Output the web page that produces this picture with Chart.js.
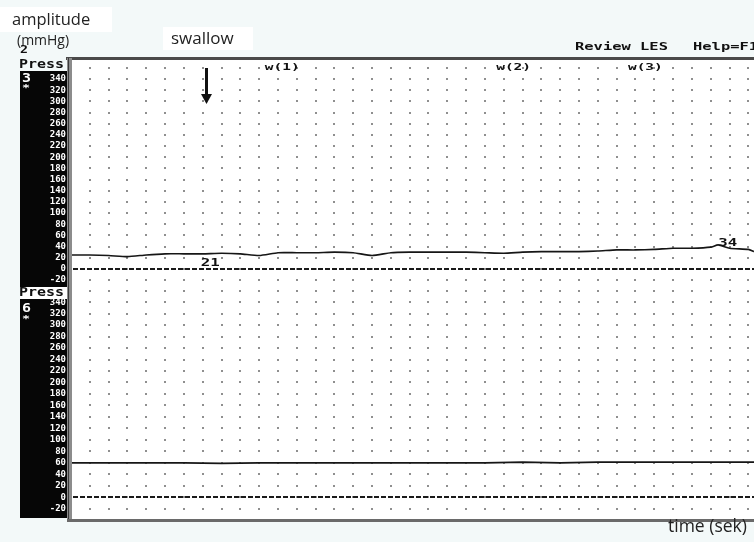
<!DOCTYPE html>
<html>
<head>
<meta charset="utf-8">
<script src="https://cdn.jsdelivr.net/npm/chart.js@4.4.1/dist/chart.umd.min.js"></script>
<style>
    html, body { margin: 0; padding: 0; background: #f3f9f9; }
    #wrap { position: relative; width: 754px; height: 542px; overflow: hidden; }
    canvas { position: absolute; left: 0; top: 0; }
</style>
</head>
<body>
<div id="wrap"><canvas id="chart" width="754" height="542"></canvas></div>
<script>
// time in grid divisions (one dot column = one division)
const upperTime = [0, 1, 2, 3, 4, 5, 6, 7, 8, 9, 10, 11, 12, 13, 14, 15, 16, 17, 18, 19, 20,
    21, 22, 23, 24, 25, 26, 27, 28, 29, 30, 31, 32, 33, 34, 34.4, 35, 36, 36.3];
const upperPressure = [25, 25, 24, 22, 25, 27, 27, 27, 28, 27, 24, 29, 29, 29, 30, 29, 24, 29, 30, 30, 30,
    30, 29, 28, 30, 31, 31, 31, 32, 34, 34, 35, 37, 37, 39, 43, 37, 35, 31];

const lowerTime = [0, 2, 4, 6, 8, 10, 12, 14, 16, 18, 20, 22, 24, 26, 28, 30, 32, 34, 36, 36.3];
const lowerPressure = [60, 60, 60, 60, 59, 60, 60, 60, 60, 60, 60, 60, 61, 60, 61, 61, 61, 61, 61, 61];

const pressureTicks = [340, 320, 300, 280, 260, 240, 220, 200, 180, 160, 140, 120, 100, 80, 60, 40, 20, 0, -20];
const upperDotRows = [360, ...pressureTicks, -40];
const lowerDotRows = pressureTicks;

const markers = [
    { t: 10.3, text: "w(1)" },
    { t: 22.6, text: "w(2)" },
    { t: 29.6, text: "w(3)" }
];
const swallowAt = 7.2;
const minLabel = { t: 6.9, value: 21 };
const maxLabel = { t: 34.4, value: 34 };

const TIME_MAX = 36.3;

function pixelText(ctx, text, x, y, charW, h, color, align) {
    const size = h * 1.3;
    ctx.save();
    ctx.font = "bold " + size + "px 'DejaVu Sans Mono'";
    const sx = charW / (0.602 * size);
    ctx.translate(x, y);
    ctx.scale(sx, 1);
    ctx.fillStyle = color;
    ctx.textBaseline = "middle";
    ctx.textAlign = align || "left";
    ctx.fillText(text, 0, 0);
    ctx.restore();
}

function label(ctx, text, x, y, size) {
    ctx.save();
    ctx.font = size + "px 'Open Sans'";
    ctx.fillStyle = "#222";
    ctx.textBaseline = "middle";
    ctx.fillText(text, x, y);
    ctx.restore();
}

const paperPlugin = {
    id: "paper",
    beforeDraw(chart) {
        const { ctx, chartArea } = chart;
        const x = chart.scales.x, yU = chart.scales.yUpper, yL = chart.scales.yLower;
        ctx.save();
        ctx.fillStyle = "#f3f9f9";
        ctx.fillRect(0, 0, chart.width, chart.height);
        // white boxes behind added labels
        ctx.fillStyle = "#ffffff";
        ctx.fillRect(0, 7, 112, 25);
        ctx.fillRect(163, 27, 90, 23);
        ctx.fillRect(chartArea.left, chartArea.top, chartArea.right - chartArea.left, chartArea.bottom - chartArea.top);
        // black label strip
        ctx.fillStyle = "#060606";
        ctx.fillRect(20, 71, chartArea.left - 23, 216);
        ctx.fillRect(20, 299, chartArea.left - 23, 219);
        ctx.fillStyle = "#ffffff";
        ctx.fillRect(20, 287, chartArea.left - 23, 12);

        // dot grid
        ctx.fillStyle = "#8f8f8f";
        const cols = [];
        for (let t = 0; t <= TIME_MAX; t++) cols.push(x.getPixelForValue(t));
        const rows = upperDotRows.map(v => yU.getPixelForValue(v))
            .concat(lowerDotRows.map(v => yL.getPixelForValue(v)));
        rows.forEach(py => cols.forEach(px => {
            ctx.fillRect(Math.round(px) - 1, Math.round(py) - 1, 2, 2);
        }));

        // zero lines
        ctx.strokeStyle = "#1a1a1a";
        ctx.lineWidth = 2;
        ctx.setLineDash([5, 2]);
        [yU, yL].forEach(s => {
            const py = Math.round(s.getPixelForValue(0));
            ctx.beginPath();
            ctx.moveTo(chartArea.left + 2, py);
            ctx.lineTo(chartArea.right, py);
            ctx.stroke();
        });
        ctx.restore();
    },
    afterDraw(chart) {
        const { ctx, chartArea } = chart;
        const x = chart.scales.x, yU = chart.scales.yUpper;
        ctx.save();
        // frame
        ctx.fillStyle = "#4a4a4a";
        ctx.fillRect(66, chartArea.top - 2, chartArea.right - 66, 3);
        ctx.fillStyle = "#8c8c8c";
        ctx.fillRect(67, chartArea.top - 1, 5, chartArea.bottom - chartArea.top + 3);
        ctx.fillStyle = "#3a3a3a";
        ctx.fillRect(68, chartArea.top - 1, 1, chartArea.bottom - chartArea.top + 3);
        ctx.fillStyle = "#6a6a6a";
        ctx.fillRect(67, chartArea.bottom, chartArea.right - 67, 3);

        // header texts
        pixelText(ctx, "Review LES", 575, 47, 9.3, 8, "#111");
        pixelText(ctx, "Help=F1", 693, 47, 9.3, 8, "#111");
        pixelText(ctx, "2", 20, 50, 8, 8, "#111");
        pixelText(ctx, "Press", 19, 65, 9, 9, "#111");
        pixelText(ctx, "Press", 19, 293, 9, 9, "#111");
        pixelText(ctx, "3", 22, 79, 9, 10, "#fff");
        pixelText(ctx, "*", 22, 89, 8, 7, "#fff");
        pixelText(ctx, "6", 22, 309, 9, 10, "#fff");
        pixelText(ctx, "*", 22, 320, 8, 7, "#fff");

        markers.forEach(m => pixelText(ctx, m.text, x.getPixelForValue(m.t), yU.getPixelForValue(360), 8.7, 7, "#111"));
        pixelText(ctx, String(minLabel.value), x.getPixelForValue(minLabel.t), 263, 9.5, 8, "#111");
        pixelText(ctx, String(maxLabel.value), x.getPixelForValue(maxLabel.t), 243, 9.5, 8, "#111");

        // swallow arrow
        const ax = Math.round(x.getPixelForValue(swallowAt));
        ctx.fillStyle = "#111";
        ctx.fillRect(ax - 1, 68, 3, 28);
        ctx.beginPath();
        ctx.moveTo(ax - 5, 94);
        ctx.lineTo(ax + 6, 94);
        ctx.lineTo(ax + 0.5, 104);
        ctx.closePath();
        ctx.fill();

        // axis captions
        label(ctx, "amplitude", 12, 20, 16.5);
        label(ctx, "(mmHg)", 17, 41, 14);
        label(ctx, "swallow", 171, 39, 17);
        label(ctx, "time (sek)", 668, 527, 17.5);
        ctx.restore();
    }
};

const tickFont = { family: "'DejaVu Sans Mono'", size: 9, weight: "bold" };

function panelAxis(min, max) {
    return {
        type: "linear",
        position: "left",
        stack: "panels",
        stackWeight: 1,
        min: min,
        max: max,
        afterBuildTicks: s => { s.ticks = pressureTicks.map(v => ({ value: v })); },
        afterFit: s => { s.width = 71; },
        ticks: { color: "#ffffff", font: tickFont, padding: 5, autoSkip: false },
        grid: { display: false, drawTicks: false },
        border: { display: false }
    };
}

new Chart(document.getElementById("chart"), {
    type: "line",
    data: {
        datasets: [
            {
                label: "Press 3",
                data: upperTime.map((t, i) => ({ x: t, y: upperPressure[i] })),
                yAxisID: "yUpper",
                borderColor: "#161616",
                borderWidth: 1.6,
                pointRadius: 0,
                tension: 0.2
            },
            {
                label: "Press 6",
                data: lowerTime.map((t, i) => ({ x: t, y: lowerPressure[i] })),
                yAxisID: "yLower",
                borderColor: "#161616",
                borderWidth: 1.8,
                pointRadius: 0,
                tension: 0
            }
        ]
    },
    options: {
        responsive: false,
        animation: false,
        layout: { padding: { top: 59, bottom: 23, left: 0, right: 0 } },
        plugins: { legend: { display: false }, tooltip: { enabled: false } },
        scales: {
            x: { type: "linear", min: 0, max: TIME_MAX, display: false },
            // stacked axes: the first one declared ends up at the bottom
            yLower: panelAxis(-38, 363),
            yUpper: panelAxis(-36, 376)
        }
    },
    plugins: [paperPlugin]
});
</script>
</body>
</html>
